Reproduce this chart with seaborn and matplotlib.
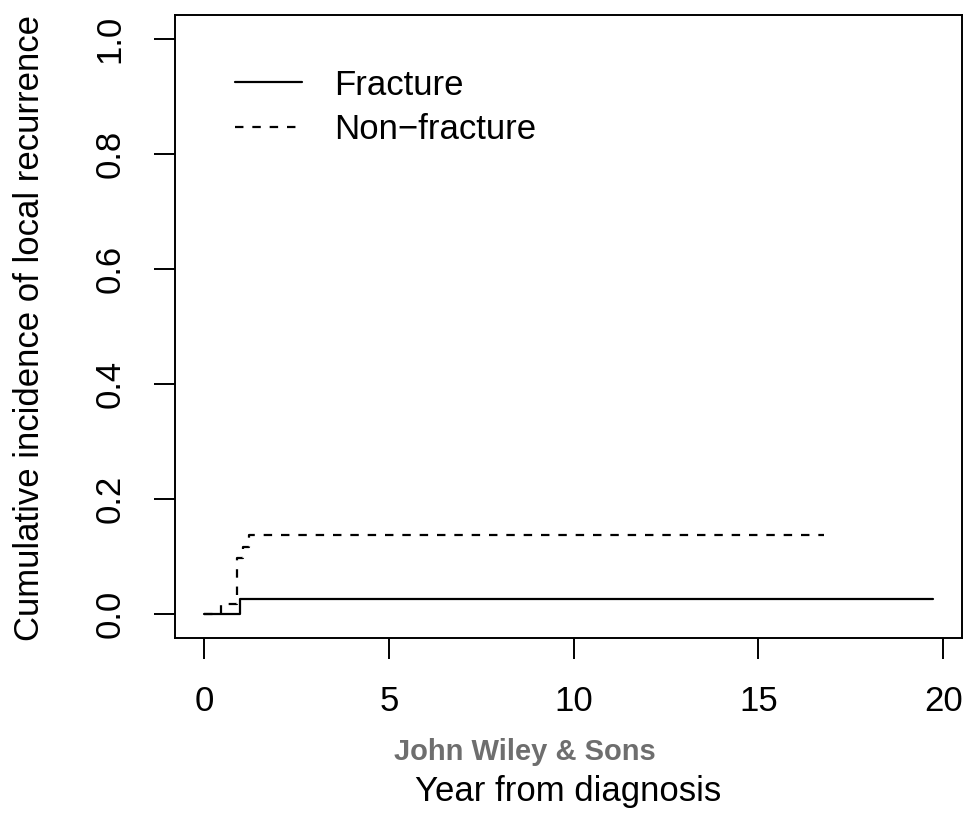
import numpy as np
import pandas as pd
import matplotlib
matplotlib.use('Agg')
import matplotlib.pyplot as plt
import seaborn as sns

# step points of the cumulative incidence curves
fracture_time = [0.0, 0.97, 19.72]
fracture_cif = [0.0, 0.026, 0.026]
nonfracture_time = [0.0, 0.45, 0.90, 1.05, 1.20, 16.78]
nonfracture_cif = [0.0, 0.018, 0.098, 0.117, 0.138, 0.138]
groups = ['Fracture', 'Non\u2212fracture']
x_ticks = [0, 5, 10, 15, 20]
y_ticks = [0.0, 0.2, 0.4, 0.6, 0.8, 1.0]

df = pd.concat([
    pd.DataFrame({'time': fracture_time, 'cif': fracture_cif, 'group': groups[0]}),
    pd.DataFrame({'time': nonfracture_time, 'cif': nonfracture_cif, 'group': groups[1]}),
], ignore_index=True)

sns.set_style('ticks')
plt.rcParams['font.family'] = ['Liberation Sans', 'DejaVu Sans']
plt.rcParams['text.color'] = 'black'
fs = 25

fig = plt.figure(figsize=(9.71, 8.14), dpi=100)
ax = fig.add_axes([175 / 971, 1 - 638 / 814, (962 - 175) / 971, (638 - 15) / 814])

sns.lineplot(data=df, x='time', y='cif', style='group', estimator=None,
             drawstyle='steps-post', color='black', linewidth=1.6,
             dashes={groups[0]: '', groups[1]: (3.8, 4.0)}, ax=ax, legend=False)

ax.set_xlim(-0.79, 20.51)
ax.set_ylim(-0.042, 1.042)
ax.set_xticks(x_ticks)
ax.set_xticklabels([str(t) for t in x_ticks])
ax.set_yticks(y_ticks)
ax.set_yticklabels([f'{t:.1f}' for t in y_ticks], rotation=90, va='center')
ax.tick_params(axis='both', length=15, width=1.4, color='black', labelsize=fs,
               labelcolor='black', direction='out')
ax.tick_params(axis='x', pad=19)
ax.tick_params(axis='y', pad=20)
for s in ax.spines.values():
    s.set_visible(True)
    s.set_linewidth(1.4)
    s.set_color('black')

ax.set_xlabel('')
ax.set_ylabel('')
fig.text(0.5 * (175 + 962) / 971, 1 - 791 / 814, 'Year from diagnosis',
         ha='center', va='center', fontsize=fs)
fig.text(30 / 971, 1 - 328 / 814, 'Cumulative incidence of local recurrence',
         ha='center', va='center', rotation=90, fontsize=fs)
fig.text(525 / 971, 1 - 752 / 814, 'John Wiley & Sons', ha='center', va='center',
         fontsize=21, fontweight='bold', color='#6e6e6e')

lines = ax.get_lines()
leg = ax.legend(lines[:2], groups, loc='upper left', bbox_to_anchor=(0.076, 0.914),
                frameon=False, fontsize=fs, handlelength=1.93, handletextpad=0.92,
                labelspacing=0.33, borderpad=0, borderaxespad=0)

fig.savefig('out.png', dpi=100)
